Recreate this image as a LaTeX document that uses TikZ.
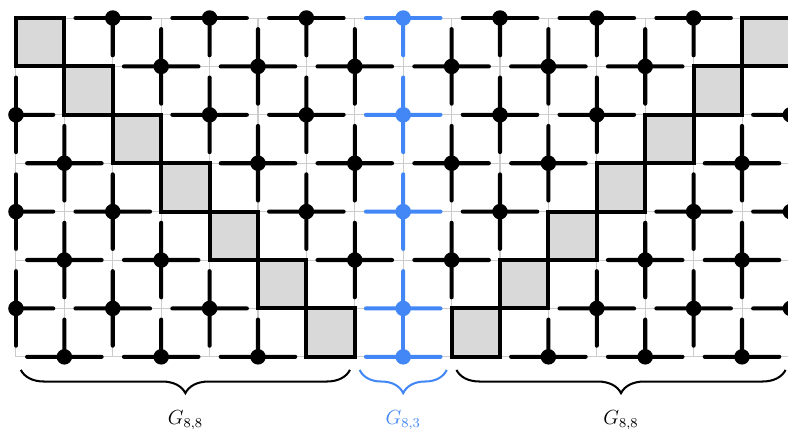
\documentclass[tikz,border=0pt]{standalone}
\usepackage{amsmath}
\usepackage{xcolor}
\usepackage{tikz}
\usetikzlibrary{calc,decorations.pathreplacing}

\definecolor{gblue}{RGB}{66,135,245}

\begin{document}
\begin{tikzpicture}[
    gridline/.style={draw=gray!40, line width=0.6pt},
    cellbox/.style={draw, fill=gray!30, line width=2.4pt},
    arm/.style={line width=2.4pt, line cap=round},
    vdot/.style={circle, fill, minimum size=0.32cm, inner sep=0pt},
    brc/.style={decorate, decoration={brace, mirror, amplitude=0.48cm}, line width=1.2pt},
    lbl/.style={font=\large, anchor=base}
]
\useasboundingbox (-0.33,0.372) rectangle (15.95,-8.471);

% grid points
\foreach \i in {0,...,16}
  \foreach \j in {0,...,7}
    \coordinate (p-\i-\j) at (\i,-\j);
\draw[gridline] (p-0-0) grid (p-16-7);

% diagonal cells
\foreach \k in {0,...,6} {
  \pgfmathtruncatemacro{\kk}{\k+1}
  \pgfmathtruncatemacro{\ra}{15-\k}
  \pgfmathtruncatemacro{\rb}{16-\k}
  \draw[cellbox] (p-\k-\k) rectangle (p-\kk-\kk);
  \draw[cellbox] (p-\ra-\k) rectangle (p-\rb-\kk);
}

% dots with their arms
\foreach \i in {0,...,16} {
  \foreach \j in {0,...,7} {
    \pgfmathtruncatemacro{\isdot}{(mod(\i+\j,2)==0 && \i!=\j && \i+\j!=16) || (\i==8 && \j==7)}
    \ifnum\isdot=1
      \ifnum\i=8 \def\armcol{gblue}\else\def\armcol{black}\fi
      \foreach \di/\dj in {1/0,-1/0,0/1,0/-1} {
        \pgfmathtruncatemacro{\ni}{\i+\di}
        \pgfmathtruncatemacro{\nj}{\j+\dj}
        \pgfmathtruncatemacro{\inside}{\ni>=0 && \ni<=16 && \nj>=0 && \nj<=7}
        \ifnum\inside=1
          \pgfmathsetmacro{\armlen}{(\i==8 && \ni==8 && \j+\nj==13) ? 1 : 0.77}
          \draw[arm, \armcol] (p-\i-\j) -- ($(p-\i-\j)!\armlen!(p-\ni-\nj)$);
        \fi
      }
      \node[vdot, fill=\armcol] (d-\i-\j) at (p-\i-\j) {};
    \fi
  }
}

% braces and labels
\coordinate (bl-a) at (0.1,-7.27);  \coordinate (bl-b) at (6.9,-7.27);
\coordinate (bm-a) at (7.1,-7.27);  \coordinate (bm-b) at (8.9,-7.27);
\coordinate (br-a) at (9.1,-7.27);  \coordinate (br-b) at (15.9,-7.27);
\draw[brc] (bl-a) -- (bl-b);
\draw[brc, gblue] (bm-a) -- (bm-b);
\draw[brc] (br-a) -- (br-b);
\node[lbl] (g-left) at (3.5,-8.39) {$G_{8,8}$};
\node[lbl, text=gblue] (g-mid) at (8,-8.39) {$G_{8,3}$};
\node[lbl] (g-right) at (12.5,-8.39) {$G_{8,8}$};
\end{tikzpicture}
\end{document}
